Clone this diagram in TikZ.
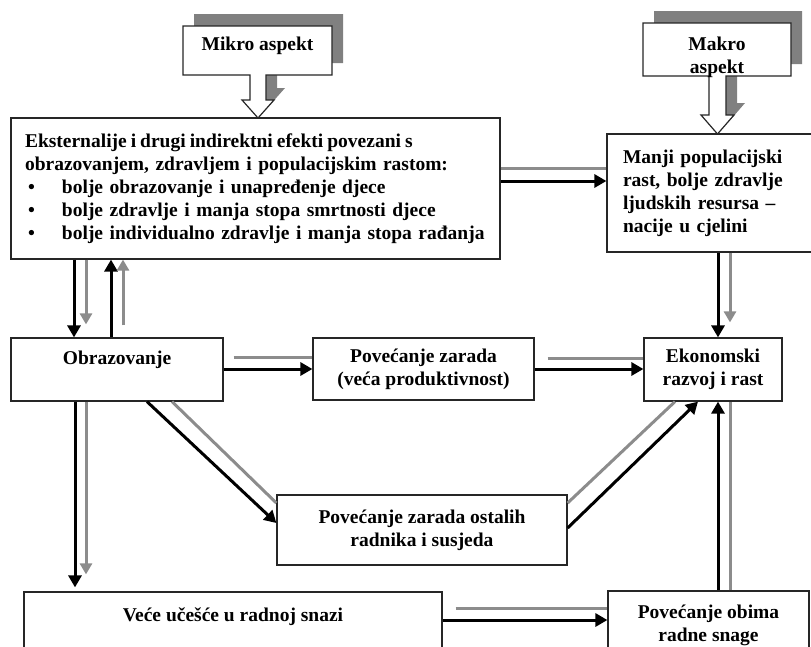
\documentclass[tikz,border=0pt]{standalone}
\usepackage{fontspec}
\setmainfont{Liberation Serif}
\usetikzlibrary{arrows.meta}
\tikzset{
  box/.style={draw=black!85, line width=1.2pt, fill=white, inner sep=0pt,
    font=\fontsize{19.5}{23}\selectfont\bfseries, align=center},
  lbl/.style={font=\fontsize{19.5}{23}\selectfont\bfseries, align=center},
  blk/.style={line width=3pt, -{Triangle[length=12pt,width=13pt]}},
  gry/.style={line width=3pt, draw=black!45, -{Triangle[length=11pt,width=12pt]}},
  gryl/.style={line width=3pt, draw=black!45},
  shade/.style={fill=black!50},
  callout/.style={draw=black!85, line width=1.2pt, fill=white}
}
\begin{document}
\begin{tikzpicture}[x=1pt,y=-1pt]
    \useasboundingbox (0,0) rectangle (811,646);
    \clip (0,0) rectangle (811,646);
    \node[box, minimum width=489pt, minimum height=141pt, text width=461pt, inner xsep=14pt, align=left] (ekst) at (255.5,188.5)
      {{\spaceskip=4pt\relax Eksternalije i drugi indirektni efekti povezani s}\\
       obrazovanjem, zdravljem i populacijskim rastom:\\
       \hspace{3pt}\makebox[34pt][l]{\textbullet}bolje obrazovanje i unapređenje djece\\
       \hspace{3pt}\makebox[34pt][l]{\textbullet}bolje zdravlje i manja stopa smrtnosti djece\\
       \hspace{3pt}\makebox[34pt][l]{\textbullet}bolje individualno zdravlje i manja stopa rađanja};
    \node[box, minimum width=212pt, minimum height=118pt, text width=180pt, inner xsep=16pt, align=left] (manji) at (713,193)
      {Manji populacijski\\rast, bolje zdravlje\\ljudskih resursa --\\nacije u cjelini};
    \node[box, minimum width=212pt, minimum height=63pt] (obraz) at (117,369.5) {Obrazovanje\\\mbox{}};
    \node[box, minimum width=221pt, minimum height=62pt] (pz) at (423.5,369) {Povećanje zarada\\(veća produktivnost)};
    \node[box, minimum width=138pt, minimum height=63pt] (ekon) at (713,369.5) {Ekonomski\\razvoj i rast};
    \node[box, minimum width=290pt, minimum height=70pt] (pzo) at (422,530) {Povećanje zarada ostalih\\radnika i susjeda};
    \node[box, minimum width=418pt, minimum height=68pt] (vece) at (233,626) {Veće učešće u radnoj snazi\\\mbox{}};
    \node[box, minimum width=201pt, minimum height=69pt] (pob) at (708.5,625.5) {Povećanje obima\\radne snage};

    \fill[shade, shift={(11,-12)}] (183,26) -- (332,26) -- (332,75) -- (266,75) -- (266,100) -- (274,100)
      -- (258,118) -- (242,100) -- (250,100) -- (250,75) -- (183,75) -- cycle;
    \draw[callout] (183,26) -- (332,26) -- (332,75) -- (266,75) -- (266,100) -- (274,100)
      -- (258,118) -- (242,100) -- (250,100) -- (250,75) -- (183,75) -- cycle;
    \node[lbl] (mikro) at (257.5,46) {Mikro aspekt};
    \fill[shade, shift={(11,-12)}] (643,23) -- (791,23) -- (791,76) -- (726,76) -- (726,115) -- (734,115)
      -- (717.5,134) -- (701,115) -- (709,115) -- (709,76) -- (643,76) -- cycle;
    \draw[callout] (643,23) -- (791,23) -- (791,76) -- (726,76) -- (726,115) -- (734,115)
      -- (717.5,134) -- (701,115) -- (709,115) -- (709,76) -- (643,76) -- cycle;
    \node[lbl] (makro) at (717,57) {Makro\\aspekt};

    \draw[gryl] (ekst.east |- 0,168) -- (manji.west |- 0,168);
    \draw[blk] (ekst.east |- 0,181) -- (manji.west |- 0,181);
    \draw[blk] (ekst.south -| 74,0) -- (obraz.north -| 74,0);
    \draw[gry, shorten >=13pt] (ekst.south -| 86,0) -- (obraz.north -| 86,0);
    \draw[blk] (obraz.north -| 111,0) -- (ekst.south -| 111,0);
    \draw[gry, shorten <=12pt] (obraz.north -| 123,0) -- (ekst.south -| 123,0);
    \draw[gryl, shorten <=10pt] (obraz.east |- 0,357) -- (pz.west |- 0,357);
    \draw[blk] (obraz.east |- 0,369) -- (pz.west |- 0,369);
    \draw[gryl, shorten <=13pt] (pz.east |- 0,358) -- (ekon.west |- 0,358);
    \draw[blk] (pz.east |- 0,369) -- (ekon.west |- 0,369);
    \draw[blk] (manji.south -| 718,0) -- (ekon.north -| 718,0);
    \draw[gry, shorten >=15pt] (manji.south -| 730,0) -- (ekon.north -| 730,0);
    \draw[blk, shorten >=4pt] (obraz.south -| 75,0) -- (vece.north -| 75,0);
    \draw[gry, shorten >=17pt] (obraz.south -| 86,0) -- (vece.north -| 86,0);
    \draw[gryl] (obraz.south -| 172,0) -- (pzo.west |- 0,503);
    \draw[blk] (obraz.south -| 147,0) -- (pzo.west |- 0,523);
    \draw[gryl] (pzo.east |- 0,503) -- (ekon.south -| 675,0);
    \draw[blk] (pzo.east |- 0,528) -- (ekon.south -| 698,0);
    \draw[gryl, shorten <=13pt] (vece.east |- 0,608) -- (pob.west |- 0,608);
    \draw[blk] (vece.east |- 0,620) -- (pob.west |- 0,620);
    \draw[gryl] (pob.north -| 730,0) -- (ekon.south -| 730,0);
    \draw[blk] (pob.north -| 718,0) -- (ekon.south -| 718,0);
\end{tikzpicture}
\end{document}
